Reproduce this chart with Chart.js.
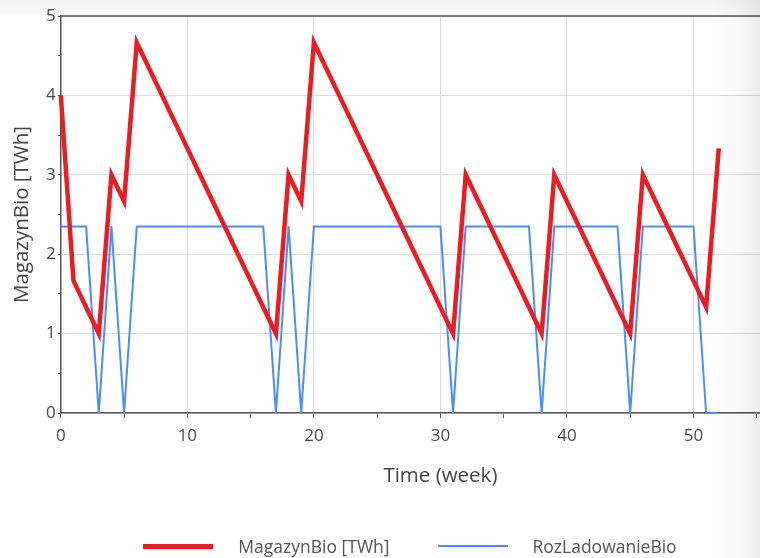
<!DOCTYPE html>
<html lang="en">
<head>
<meta charset="UTF-8">
<title>MagazynBio</title>
<script src="https://cdn.jsdelivr.net/npm/chart.js"></script>
<style>
  html, body { margin: 0; padding: 0; background: #fff; overflow: hidden; }
  body { font-family: 'Open Sans', sans-serif; }
  #wrap { position: relative; width: 828px; height: 558px; }
  #legend { position: absolute; left: 0; top: 533px; width: 820px; height: 26px;
            display: flex; justify-content: center; align-items: center;
            font-size: 17.5px; color: #555; }
  .item { display: flex; align-items: center; white-space: nowrap; }
  .item + .item { margin-left: 48px; }
  .swatch { width: 70px; margin-right: 25px; }
  #shade { position: absolute; left: 0; top: 0; width: 760px; height: 558px; pointer-events: none;
           background:
             linear-gradient(to bottom, rgba(0,0,0,0.045) 0, rgba(0,0,0,0.03) 12px, rgba(0,0,0,0) 18px),
             linear-gradient(to left, rgba(0,0,0,0.07) 0, rgba(0,0,0,0.025) 22px, rgba(0,0,0,0) 48px); }
</style>
</head>
<body>
<div id="wrap">
  <canvas id="chart" width="828" height="558"></canvas>
  <div id="legend"></div>
</div>
<div id="shade"></div>

<script>
  // weekly simulation output
  const weeks = [0,1,2,3,4,5,6,7,8,9,10,11,12,13,14,15,16,17,18,19,20,21,22,23,24,25,26,
                 27,28,29,30,31,32,33,34,35,36,37,38,39,40,41,42,43,44,45,46,47,48,49,50,51,52];
  const magazynBio = [4.0, 1.667, 1.333, 1.0, 3.0, 2.667, 4.667, 4.333, 4.0, 3.667, 3.333, 3.0, 2.667,
                      2.333, 2.0, 1.667, 1.333, 1.0, 3.0, 2.667, 4.667, 4.333, 4.0, 3.667, 3.333, 3.0,
                      2.667, 2.333, 2.0, 1.667, 1.333, 1.0, 3.0, 2.667, 2.333, 2.0, 1.667, 1.333, 1.0,
                      3.0, 2.667, 2.333, 2.0, 1.667, 1.333, 1.0, 3.0, 2.667, 2.333, 2.0, 1.667, 1.333, 3.333];
  const rozLadowanieBio = [2.35, 2.35, 2.35, 0, 2.35, 0, 2.35, 2.35, 2.35, 2.35, 2.35, 2.35, 2.35,
                           2.35, 2.35, 2.35, 2.35, 0, 2.35, 0, 2.35, 2.35, 2.35, 2.35, 2.35, 2.35,
                           2.35, 2.35, 2.35, 2.35, 2.35, 0, 2.35, 2.35, 2.35, 2.35, 2.35, 2.35, 0,
                           2.35, 2.35, 2.35, 2.35, 2.35, 2.35, 0, 2.35, 2.35, 2.35, 2.35, 2.35, 0, 0];
  const xTickLabels = [0, 10, 20, 30, 40, 50];
  const yTickLabels = [0, 1, 2, 3, 4, 5];

  const RED = '#ec1c24';
  const BLUE = '#4b8df8';

  // top frame line of the plot area
  const topFrame = {
    id: 'topFrame',
    afterDraw(chart) {
      const { ctx, chartArea } = chart;
      ctx.save();
      ctx.strokeStyle = '#555';
      ctx.lineWidth = 1.5;
      ctx.beginPath();
      ctx.moveTo(chartArea.left, chartArea.top);
      ctx.lineTo(chartArea.right, chartArea.top);
      ctx.stroke();
      ctx.restore();
    }
  };

  const tickFont = { family: "'Open Sans', sans-serif", size: 17 };
  const titleFont = { family: "'Open Sans', sans-serif", size: 20.5 };

  const chart = new Chart(document.getElementById('chart'), {
    type: 'line',
    data: {
      datasets: [
        {
          label: 'MagazynBio [TWh]',
          data: weeks.map((w, i) => ({ x: w, y: magazynBio[i] })),
          borderColor: RED,
          backgroundColor: RED,
          borderWidth: 4.5,
          pointRadius: 0,
          tension: 0,
          clip: false
        },
        {
          label: 'RozLadowanieBio',
          data: weeks.map((w, i) => ({ x: w, y: rozLadowanieBio[i] })),
          borderColor: BLUE,
          backgroundColor: BLUE,
          borderWidth: 2,
          pointRadius: 0,
          tension: 0,
          clip: false
        }
      ]
    },
    options: {
      responsive: false,
      animation: false,
      devicePixelRatio: 1,
      layout: { padding: { top: 16, right: 0, bottom: 70, left: 0 } },
      plugins: { legend: { display: false }, tooltip: { enabled: false } },
      scales: {
        x: {
          type: 'linear',
          min: 0,
          max: 60,
          ticks: {
            stepSize: 5,
            autoSkip: false,
            maxRotation: 0,
            padding: 8,
            color: '#4a4a4a',
            font: tickFont,
            callback: v => xTickLabels.includes(v) ? v : ''
          },
          grid: {
            color: c => xTickLabels.includes(c.tick.value) ? '#dedede' : 'rgba(0,0,0,0)',
            tickColor: '#555',
            tickLength: 5
          },
          border: { color: '#555', width: 1.5 },
          title: { display: true, text: 'Time (week)', color: '#444', font: titleFont,
                   padding: { top: 9, bottom: 0 } }
        },
        y: {
          min: 0,
          max: 5,
          ticks: {
            stepSize: 0.5,
            autoSkip: false,
            padding: 2,
            color: '#4a4a4a',
            font: tickFont,
            callback: v => yTickLabels.includes(v) ? v : ''
          },
          grid: {
            color: c => yTickLabels.includes(c.tick.value) ? '#dedede' : 'rgba(0,0,0,0)',
            tickColor: '#555',
            tickLength: 3
          },
          border: { color: '#555', width: 1.5 },
          title: { display: true, text: 'MagazynBio [TWh]', color: '#444', font: titleFont,
                   padding: { top: 10, bottom: 9.5 } }
        }
      }
    },
    plugins: [topFrame]
  });

  // legend below the axis title
  const legend = document.getElementById('legend');
  chart.data.datasets.forEach(ds => {
    const item = document.createElement('div');
    item.className = 'item';
    const sw = document.createElement('div');
    sw.className = 'swatch';
    sw.style.borderTop = Math.round(ds.borderWidth) + 'px solid ' + ds.borderColor;
    const txt = document.createElement('span');
    txt.textContent = ds.label;
    item.appendChild(sw);
    item.appendChild(txt);
    legend.appendChild(item);
  });
</script>
</body>
</html>
